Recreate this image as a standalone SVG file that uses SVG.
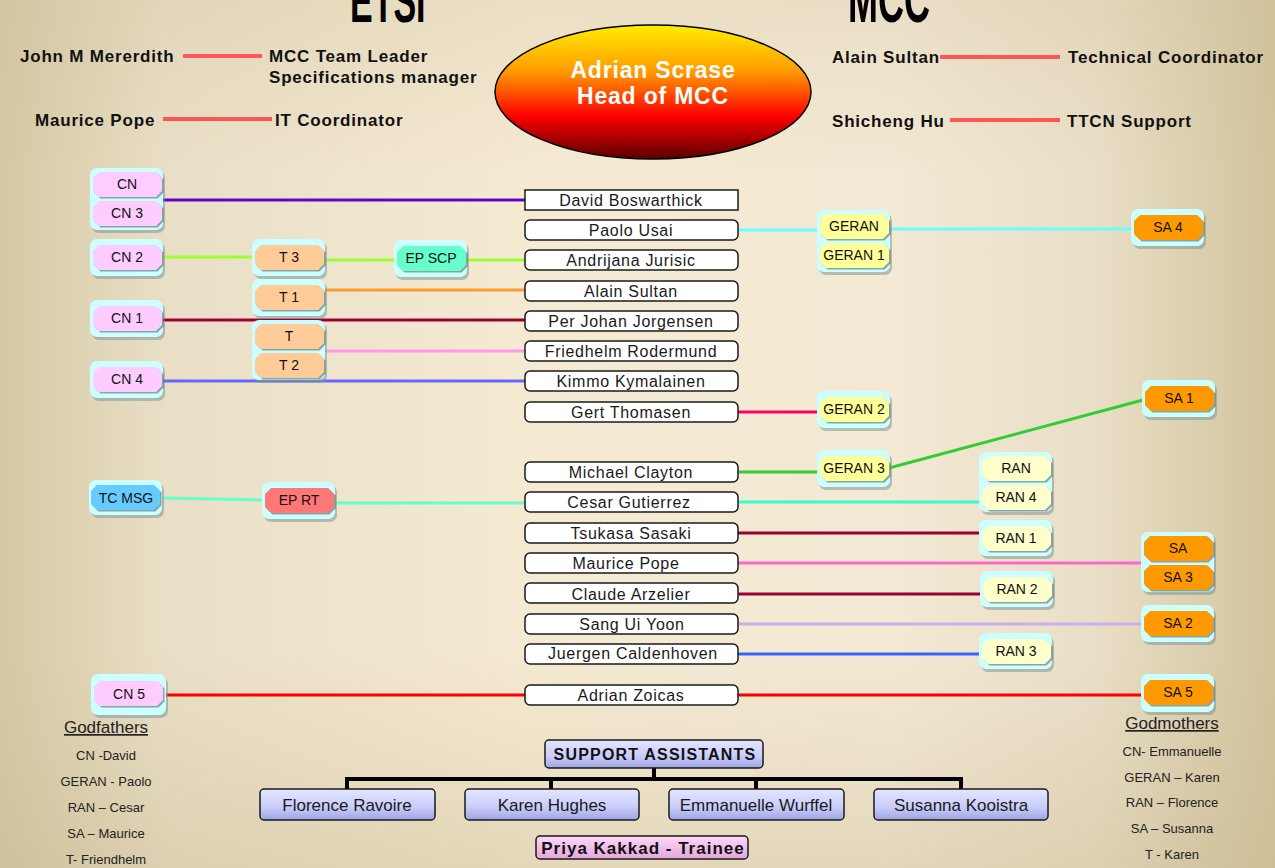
<svg xmlns="http://www.w3.org/2000/svg" width="1275" height="868" viewBox="0 0 1275 868">
<defs>
<linearGradient id="bg" x1="0" y1="0" x2="1" y2="0">
<stop offset="0" stop-color="#d6c8a4"/>
<stop offset="0.13" stop-color="#e9dfc6"/>
<stop offset="0.42" stop-color="#f5ead2"/>
<stop offset="0.7" stop-color="#f3e9d4"/>
<stop offset="0.86" stop-color="#e9dfc7"/>
<stop offset="1" stop-color="#d2c39c"/>
</linearGradient>
<linearGradient id="bgv" x1="0" y1="0" x2="0" y2="1">
<stop offset="0" stop-color="#cbbd98" stop-opacity="0.25"/>
<stop offset="0.2" stop-color="#cbbd98" stop-opacity="0"/>
<stop offset="0.75" stop-color="#cbbd98" stop-opacity="0"/>
<stop offset="1" stop-color="#c4b48c" stop-opacity="0.35"/>
</linearGradient>
<linearGradient id="ell" x1="0" y1="0" x2="0" y2="1">
<stop offset="0" stop-color="#ffee00"/>
<stop offset="0.35" stop-color="#ff9a00"/>
<stop offset="0.68" stop-color="#ff0000"/>
<stop offset="1" stop-color="#5a0000"/>
</linearGradient>
<linearGradient id="sup" x1="0" y1="0" x2="0" y2="1">
<stop offset="0" stop-color="#e4e6ff"/>
<stop offset="0.6" stop-color="#c8ccfa"/>
<stop offset="1" stop-color="#9ea4e0"/>
</linearGradient>
<linearGradient id="pri" x1="0" y1="0" x2="0" y2="1">
<stop offset="0" stop-color="#fbd8f6"/>
<stop offset="1" stop-color="#e6a6de"/>
</linearGradient>
<polygon id="oct" points="6,0 63,0 69,6 69,19 63,25 6,25 0,19 0,6"/>
<g id="tag">
<use href="#oct" x="1.5" y="1.5" fill="#000" fill-opacity="0.35"/>
<use href="#oct"/>
</g>
</defs>
<style>
.box{fill:#fff;stroke:#1a1a1a;stroke-width:1.5}
.bt{font-family:"Liberation Sans",Arial,sans-serif;font-size:16px;letter-spacing:0.7px;fill:#1a1a1a;text-anchor:middle}
.hd{font-family:"Liberation Sans",Arial,sans-serif;font-size:17px;font-weight:bold;letter-spacing:0.8px;fill:#111}
.nt{font-family:"Liberation Sans",Arial,sans-serif;font-size:14px;fill:#111;text-anchor:middle}
.cont{fill:#ccffff}
.sh{fill:#7f9898;fill-opacity:0.55}
.pink{fill:#ffccff}
.peach{fill:#ffcc99}
.mint{fill:#66ffcc}
.blue{fill:#66ccff}
.salmon{fill:#ff7777}
.yel{fill:#ffff99}
.pale{fill:#ffffcc}
.org{fill:#ff9900}
.rl{stroke:#ff5555;stroke-width:4}
.ln{fill:none;stroke-width:3}
.sm{font-family:"Liberation Sans",Arial,sans-serif;font-size:13px;fill:#222;text-anchor:middle}
.gt{font-family:"Liberation Sans",Arial,sans-serif;font-size:17px;fill:#222;text-anchor:middle;text-decoration:underline}
.sb{fill:url(#sup);stroke:#1a1a1a;stroke-width:1.5}
.st{font-family:"Liberation Sans",Arial,sans-serif;font-size:17px;fill:#1a1a1a;text-anchor:middle}
</style>
<rect width="1275" height="868" fill="url(#bg)"/>
<rect width="1275" height="868" fill="url(#bgv)"/>

<g id="title" font-family="'Liberation Sans',Arial,sans-serif" font-weight="bold" fill="#000">
<text transform="translate(350,22) scale(1,1.8)" font-size="34">ETSI</text>
<text transform="translate(848,22) scale(1,1.8)" font-size="36">MCC</text>
</g>

<g id="management">
<text class="hd" x="20" y="62">John M Mererdith</text>
<line class="rl" x1="183" y1="56" x2="262" y2="56"/>
<text class="hd" x="269" y="62">MCC Team Leader</text>
<text class="hd" x="269" y="83">Specifications manager</text>
<text class="hd" x="35" y="126">Maurice Pope</text>
<line class="rl" x1="163" y1="119" x2="272" y2="119"/>
<text class="hd" x="275" y="126">IT Coordinator</text>
<text class="hd" x="832" y="63">Alain Sultan</text>
<line class="rl" x1="940" y1="57" x2="1060" y2="57"/>
<text class="hd" x="1068" y="63">Technical Coordinator</text>
<text class="hd" x="832" y="127">Shicheng Hu</text>
<line class="rl" x1="950" y1="120" x2="1060" y2="120"/>
<text class="hd" x="1067" y="127">TTCN Support</text>
</g>

<g id="head">
<ellipse cx="653" cy="92" rx="158" ry="67" fill="url(#ell)" stroke="#000" stroke-width="1.5"/>
<text x="653" y="78" text-anchor="middle" font-family="'Liberation Sans',Arial,sans-serif" font-size="23" font-weight="bold" letter-spacing="0.8" fill="#fff">Adrian Scrase</text>
<text x="653" y="104" text-anchor="middle" font-family="'Liberation Sans',Arial,sans-serif" font-size="23" font-weight="bold" letter-spacing="0.8" fill="#fff">Head of MCC</text>
</g>

<g id="connectors">
<line class="ln" stroke="#6600cc" x1="163" y1="200" x2="525" y2="200"/>
<line class="ln" stroke="#66ffff" x1="738" y1="230" x2="818" y2="230"/>
<line class="ln" stroke="#66ffff" x1="890" y1="229" x2="1133" y2="229"/>
<line class="ln" stroke="#99ff33" x1="163" y1="257" x2="253" y2="257"/>
<line class="ln" stroke="#99ff33" x1="325" y1="260" x2="395" y2="260"/>
<line class="ln" stroke="#99ff33" x1="467" y1="260" x2="525" y2="260"/>
<line class="ln" stroke="#ff9933" x1="325" y1="290" x2="525" y2="290"/>
<line class="ln" stroke="#990033" x1="163" y1="320" x2="525" y2="320"/>
<line class="ln" stroke="#ff99ee" x1="325" y1="351" x2="525" y2="351"/>
<line class="ln" stroke="#6666ff" x1="163" y1="381" x2="525" y2="381"/>
<line class="ln" stroke="#ff0066" x1="738" y1="412" x2="818" y2="412"/>
<line class="ln" stroke="#33cc33" x1="738" y1="472" x2="818" y2="472"/>
<line class="ln" stroke="#33cc33" x1="889" y1="468" x2="1143" y2="400"/>
<line class="ln" stroke="#66ffcc" x1="162" y1="498" x2="263" y2="500"/>
<line class="ln" stroke="#66ffcc" x1="335" y1="503" x2="525" y2="503"/>
<line class="ln" stroke="#33ffcc" x1="738" y1="502" x2="980" y2="502"/>
<line class="ln" stroke="#990033" x1="738" y1="533" x2="980" y2="533"/>
<line class="ln" stroke="#ff66cc" x1="738" y1="563" x2="1143" y2="563"/>
<line class="ln" stroke="#990033" x1="738" y1="594" x2="980" y2="594"/>
<line class="ln" stroke="#c8b0ee" x1="738" y1="624" x2="1143" y2="624"/>
<line class="ln" stroke="#3366ff" x1="738" y1="654" x2="980" y2="654"/>
<line class="ln" stroke="#ff0000" x1="165" y1="695" x2="1143" y2="695"/>
<line stroke="#000" stroke-width="4" x1="654" y1="768" x2="654" y2="779"/>
<path d="M347,789 V779 H961 V789 M551,779 V789 M756,779 V789" fill="none" stroke="#000" stroke-width="4"/>
</g>

<g id="people">
<rect class="box" x="525" y="190" width="213" height="20"/><text class="bt" x="631" y="206">David Boswarthick</text>
<rect class="box" x="525" y="220" width="213" height="20" rx="5"/><text class="bt" x="631" y="236">Paolo Usai</text>
<rect class="box" x="525" y="250" width="213" height="20" rx="5"/><text class="bt" x="631" y="266">Andrijana Jurisic</text>
<rect class="box" x="525" y="281" width="213" height="20" rx="5"/><text class="bt" x="631" y="297">Alain Sultan</text>
<rect class="box" x="525" y="311" width="213" height="20" rx="5"/><text class="bt" x="631" y="327">Per Johan Jorgensen</text>
<rect class="box" x="525" y="341" width="213" height="20" rx="5"/><text class="bt" x="631" y="357">Friedhelm Rodermund</text>
<rect class="box" x="525" y="371" width="213" height="20" rx="5"/><text class="bt" x="631" y="387">Kimmo Kymalainen</text>
<rect class="box" x="525" y="402" width="213" height="20" rx="5"/><text class="bt" x="631" y="418">Gert Thomasen</text>
<rect class="box" x="525" y="462" width="213" height="20" rx="5"/><text class="bt" x="631" y="478">Michael Clayton</text>
<rect class="box" x="525" y="492" width="213" height="20" rx="5"/><text class="bt" x="629" y="508">Cesar Gutierrez</text>
<rect class="box" x="525" y="523" width="213" height="20" rx="5"/><text class="bt" x="631" y="539">Tsukasa Sasaki</text>
<rect class="box" x="525" y="553" width="213" height="20" rx="5"/><text class="bt" x="626" y="569">Maurice Pope</text>
<rect class="box" x="525" y="583" width="213" height="20" rx="5"/><text class="bt" x="631" y="600">Claude Arzelier</text>
<rect class="box" x="525" y="614" width="213" height="20" rx="5"/><text class="bt" x="632" y="630">Sang Ui Yoon</text>
<rect class="box" x="525" y="644" width="213" height="20" rx="5"/><text class="bt" x="633" y="659">Juergen Caldenhoven</text>
<rect class="box" x="525" y="685" width="213" height="20" rx="5"/><text class="bt" x="631" y="701">Adrian Zoicas</text>
</g>

<g id="node-cn-cn3">
<rect class="sh" x="92" y="171" width="73" height="62" rx="7"/><rect class="cont" x="90" y="168" width="73" height="62" rx="7"/>
<use href="#tag" class="pink" x="93" y="172"/><use href="#tag" class="pink" x="93" y="201"/>
<text class="nt" x="127" y="189">CN</text><text class="nt" x="127" y="218">CN 3</text>
</g>
<g id="node-cn2">
<rect class="sh" x="92" y="242" width="73" height="37" rx="7"/><rect class="cont" x="90" y="239" width="73" height="37" rx="7"/>
<use href="#tag" class="pink" x="93" y="245"/><text class="nt" x="127" y="262">CN 2</text>
</g>
<g id="node-cn1">
<rect class="sh" x="92" y="303" width="73" height="37" rx="7"/><rect class="cont" x="90" y="300" width="73" height="37" rx="7"/>
<use href="#tag" class="pink" x="93" y="306"/><text class="nt" x="127" y="323">CN 1</text>
</g>
<g id="node-cn4">
<rect class="sh" x="92" y="364" width="73" height="37" rx="7"/><rect class="cont" x="90" y="361" width="73" height="37" rx="7"/>
<use href="#tag" class="pink" x="93" y="367"/><text class="nt" x="127" y="384">CN 4</text>
</g>
<g id="node-tcmsg">
<rect class="sh" x="91" y="483" width="73" height="35" rx="7"/><rect class="cont" x="89" y="480" width="73" height="35" rx="7"/>
<use href="#tag" class="blue" x="91" y="485"/><text class="nt" x="126" y="503">TC MSG</text>
</g>
<g id="node-cn5">
<rect class="sh" x="93" y="677" width="75" height="41" rx="7"/><rect class="cont" x="91" y="674" width="75" height="41" rx="7"/>
<use href="#tag" class="pink" x="94" y="681"/><text class="nt" x="129" y="699">CN 5</text>
</g>
<g id="node-t3">
<rect class="sh" x="254" y="242" width="73" height="37" rx="7"/><rect class="cont" x="252" y="239" width="73" height="37" rx="7"/>
<use href="#tag" class="peach" x="255" y="245"/><text class="nt" x="289" y="262">T 3</text>
</g>
<g id="node-epscp">
<rect class="sh" x="396" y="243" width="73" height="37" rx="7"/><rect class="cont" x="394" y="240" width="73" height="37" rx="7"/>
<use href="#tag" class="mint" x="397" y="246"/><text class="nt" x="431" y="263">EP SCP</text>
</g>
<g id="node-t1">
<rect class="sh" x="254" y="282" width="73" height="37" rx="7"/><rect class="cont" x="252" y="279" width="73" height="37" rx="7"/>
<use href="#tag" class="peach" x="255" y="285"/><text class="nt" x="289" y="302">T 1</text>
</g>
<g id="node-t-t2">
<rect class="sh" x="254" y="323" width="73" height="60" rx="7"/><rect class="cont" x="252" y="320" width="73" height="60" rx="7"/>
<use href="#tag" class="peach" x="255" y="324"/><use href="#tag" class="peach" x="255" y="353"/>
<text class="nt" x="289" y="341">T</text><text class="nt" x="289" y="370">T 2</text>
</g>
<g id="node-eprt">
<rect class="sh" x="264" y="485" width="73" height="37" rx="7"/><rect class="cont" x="262" y="482" width="73" height="37" rx="7"/>
<use href="#tag" class="salmon" x="265" y="488"/><text class="nt" x="299" y="505">EP RT</text>
</g>
<g id="node-geran-geran1">
<rect class="sh" x="819" y="213" width="73" height="62" rx="7"/><rect class="cont" x="817" y="210" width="73" height="62" rx="7"/>
<use href="#tag" class="yel" x="820" y="214"/><use href="#tag" class="yel" x="820" y="243"/>
<text class="nt" x="854" y="231">GERAN</text><text class="nt" x="854" y="260">GERAN 1</text>
</g>
<g id="node-geran2">
<rect class="sh" x="819" y="394" width="73" height="37" rx="7"/><rect class="cont" x="817" y="391" width="73" height="37" rx="7"/>
<use href="#tag" class="yel" x="820" y="397"/><text class="nt" x="854" y="414">GERAN 2</text>
</g>
<g id="node-geran3">
<rect class="sh" x="819" y="453" width="73" height="37" rx="7"/><rect class="cont" x="817" y="450" width="73" height="37" rx="7"/>
<use href="#tag" class="yel" x="820" y="456"/><text class="nt" x="854" y="473">GERAN 3</text>
</g>
<g id="node-sa4">
<rect class="sh" x="1133" y="212" width="73" height="37" rx="7"/><rect class="cont" x="1131" y="209" width="73" height="37" rx="7"/>
<use href="#tag" class="org" x="1134" y="215"/><text class="nt" x="1168" y="232">SA 4</text>
</g>
<g id="node-sa1">
<rect class="sh" x="1144" y="383" width="73" height="37" rx="7"/><rect class="cont" x="1142" y="380" width="73" height="37" rx="7"/>
<use href="#tag" class="org" x="1145" y="386"/><text class="nt" x="1179" y="403">SA 1</text>
</g>
<g id="node-ran-ran4">
<rect class="sh" x="981" y="455" width="73" height="60" rx="7"/><rect class="cont" x="979" y="452" width="73" height="60" rx="7"/>
<use href="#tag" class="pale" x="982" y="456"/><use href="#tag" class="pale" x="982" y="485"/>
<text class="nt" x="1016" y="473">RAN</text><text class="nt" x="1016" y="502">RAN 4</text>
</g>
<g id="node-ran1">
<rect class="sh" x="981" y="523" width="73" height="36" rx="7"/><rect class="cont" x="979" y="520" width="73" height="36" rx="7"/>
<use href="#tag" class="pale" x="982" y="526"/><text class="nt" x="1016" y="543">RAN 1</text>
</g>
<g id="node-sa-sa3">
<rect class="sh" x="1143" y="535" width="73" height="60" rx="7"/><rect class="cont" x="1141" y="532" width="73" height="60" rx="7"/>
<use href="#tag" class="org" x="1144" y="536"/><use href="#tag" class="org" x="1144" y="565"/>
<text class="nt" x="1178" y="553">SA</text><text class="nt" x="1178" y="582">SA 3</text>
</g>
<g id="node-ran2">
<rect class="sh" x="982" y="574" width="73" height="36" rx="7"/><rect class="cont" x="980" y="571" width="73" height="36" rx="7"/>
<use href="#tag" class="pale" x="983" y="577"/><text class="nt" x="1017" y="594">RAN 2</text>
</g>
<g id="node-sa2">
<rect class="sh" x="1143" y="608" width="73" height="37" rx="7"/><rect class="cont" x="1141" y="605" width="73" height="37" rx="7"/>
<use href="#tag" class="org" x="1144" y="611"/><text class="nt" x="1178" y="628">SA 2</text>
</g>
<g id="node-ran3">
<rect class="sh" x="981" y="636" width="73" height="36" rx="7"/><rect class="cont" x="979" y="633" width="73" height="36" rx="7"/>
<use href="#tag" class="pale" x="982" y="639"/><text class="nt" x="1016" y="656">RAN 3</text>
</g>
<g id="node-sa5">
<rect class="sh" x="1143" y="677" width="73" height="38" rx="7"/><rect class="cont" x="1141" y="674" width="73" height="38" rx="7"/>
<use href="#tag" class="org" x="1144" y="680"/><text class="nt" x="1178" y="697">SA 5</text>
</g>

<g id="godfathers">
<text class="gt" x="106" y="733">Godfathers</text>
<text class="sm" x="106" y="760">CN -David</text>
<text class="sm" x="106" y="786">GERAN - Paolo</text>
<text class="sm" x="106" y="812">RAN – Cesar</text>
<text class="sm" x="106" y="838">SA – Maurice</text>
<text class="sm" x="106" y="864">T- Friendhelm</text>
</g>
<g id="godmothers">
<text class="gt" x="1172" y="729">Godmothers</text>
<text class="sm" x="1172" y="756">CN- Emmanuelle</text>
<text class="sm" x="1172" y="782">GERAN – Karen</text>
<text class="sm" x="1172" y="807">RAN – Florence</text>
<text class="sm" x="1172" y="833">SA – Susanna</text>
<text class="sm" x="1172" y="859">T - Karen</text>
</g>

<g id="support">
<rect class="sb" x="545" y="740" width="218" height="28" rx="4"/>
<text x="655" y="760" text-anchor="middle" font-family="'Liberation Sans',Arial,sans-serif" font-size="16" font-weight="bold" letter-spacing="1.2" fill="#111">SUPPORT ASSISTANTS</text>
</g>
<g id="florence"><rect class="sb" x="260" y="789" width="175" height="31" rx="4"/><text class="st" x="347" y="811">Florence Ravoire</text></g>
<g id="karen"><rect class="sb" x="465" y="789" width="174" height="31" rx="4"/><text class="st" x="552" y="811">Karen Hughes</text></g>
<g id="emmanuelle"><rect class="sb" x="669" y="789" width="175" height="31" rx="4"/><text class="st" x="756" y="811">Emmanuelle Wurffel</text></g>
<g id="susanna"><rect class="sb" x="874" y="789" width="174" height="31" rx="4"/><text class="st" x="961" y="811">Susanna Kooistra</text></g>
<g id="priya">
<rect x="536" y="836" width="212" height="23" rx="4" fill="url(#pri)" stroke="#1a1a1a" stroke-width="1.5"/>
<text x="643" y="854" text-anchor="middle" font-family="'Liberation Sans',Arial,sans-serif" font-size="17" font-weight="bold" letter-spacing="1" fill="#111">Priya Kakkad - Trainee</text>
</g>
</svg>
